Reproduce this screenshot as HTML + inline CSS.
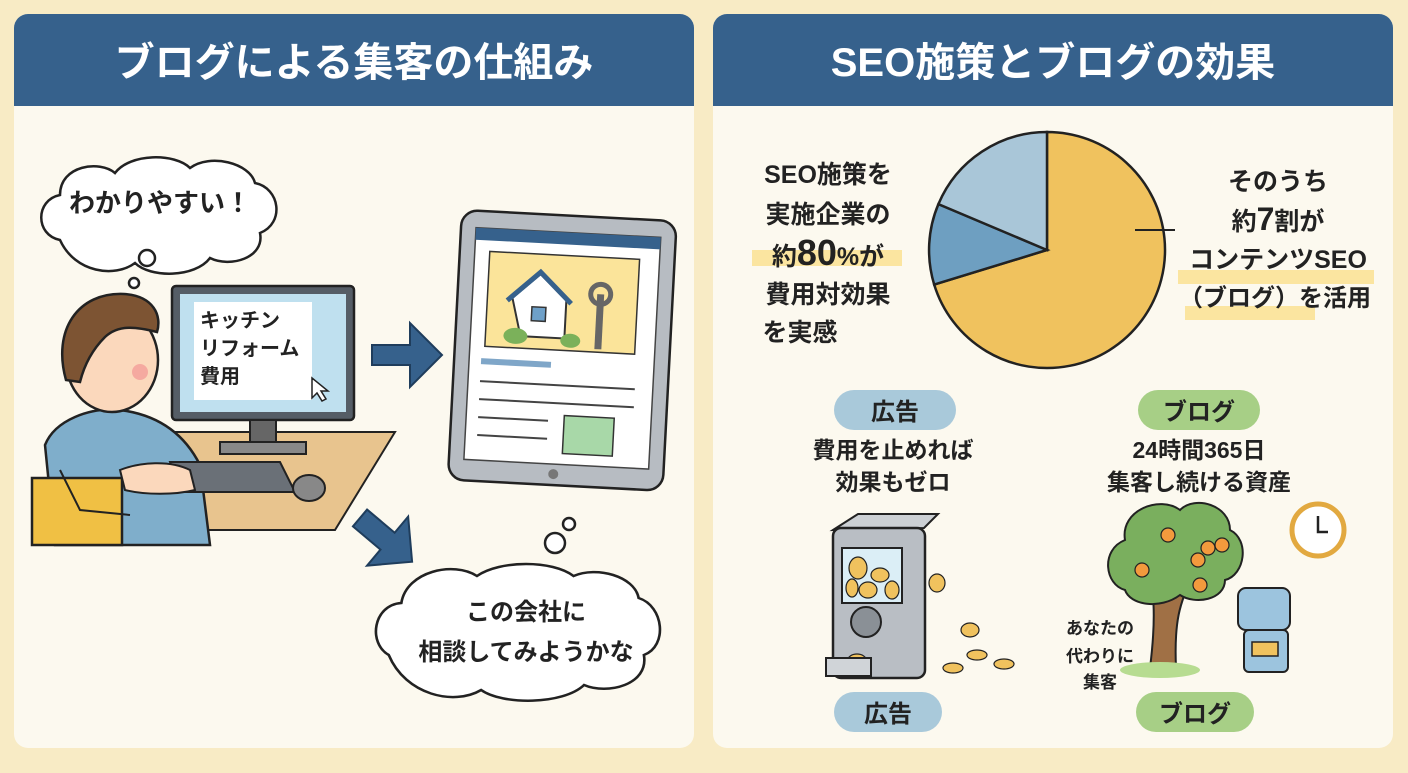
<!DOCTYPE html>
<html><head><meta charset="utf-8"><style>
body{margin:0;width:1408px;height:768px;background:#f8ebc5;overflow:hidden;font-family:"Liberation Sans","Noto Sans CJK JP",sans-serif}
svg text{font-family:"Liberation Sans","Noto Sans CJK JP",sans-serif;font-weight:700;fill:#222}
</style></head><body>
<svg width="1408" height="768" viewBox="0 0 1408 768" xmlns="http://www.w3.org/2000/svg">
<rect x="14" y="14" width="680" height="734" rx="14" fill="#fcf9ef"/>
<path d="M14 106V28a14 14 0 0 1 14-14h652a14 14 0 0 1 14 14v78z" fill="#36618c"/>
<rect x="713" y="14" width="680" height="734" rx="14" fill="#fcf9ef"/>
<path d="M713 106V28a14 14 0 0 1 14-14h652a14 14 0 0 1 14 14v78z" fill="#36618c"/>
<text x="354" y="76" font-size="40" text-anchor="middle" style="fill:#fff">ブログによる集客の仕組み</text>
<text x="1053" y="76" font-size="40" text-anchor="middle" style="fill:#fff">SEO施策とブログの効果</text>

<g stroke="#222" stroke-width="2.5" fill="#fff">
<path d="M60 240c-25-5-25-40 0-45c0-30 40-35 55-22c15-20 60-20 75-5c20-15 60-5 65 15c25 5 30 40 5 50c5 25-30 35-50 25c-15 20-60 20-75 5c-20 15-60 10-75-23z"/>
<circle cx="147" cy="258" r="8"/><circle cx="134" cy="283" r="5"/>
</g>
<text x="160" y="212" font-size="26" text-anchor="middle">わかりやすい！</text>

<path d="M150 432h245l-60 98H150z" fill="#e8c48e" stroke="#222" stroke-width="2"/>
<path d="M45 445c10-25 45-38 75-35c40 5 65 25 80 55l10 80H55z" fill="#7faecb" stroke="#222" stroke-width="2.5"/>
<path d="M32 478h90v67H32z" fill="#f0c044" stroke="#222" stroke-width="2.5"/>
<ellipse cx="112" cy="360" rx="46" ry="52" fill="#fbd8bc" stroke="#222" stroke-width="2.5"/>
<path d="M66 380c-14-50 12-88 58-86c30 2 38 22 33 38c-20-5-38-8-52 5c-10 10-20 25-25 45z" fill="#7d5433" stroke="#222" stroke-width="2.5"/>
<circle cx="140" cy="372" r="8" fill="#f5a9a0"/>
<rect x="172" y="286" width="182" height="134" rx="4" fill="#555d66" stroke="#222" stroke-width="2.5"/>
<rect x="180" y="294" width="166" height="118" fill="#bfe0ef"/>
<rect x="194" y="302" width="118" height="98" fill="#fff"/>
<text x="200" y="327" font-size="20">キッチン</text>
<text x="200" y="355" font-size="20">リフォーム</text>
<text x="200" y="383" font-size="20">費用</text>
<path d="M312 378l0 20 5-5 5 8 4-2-5-8 7 0z" fill="#fff" stroke="#222" stroke-width="1.5"/>
<rect x="250" y="420" width="26" height="24" fill="#666" stroke="#222" stroke-width="2"/>
<rect x="220" y="442" width="86" height="12" fill="#888" stroke="#222" stroke-width="2"/>
<path d="M170 462l110 0 15 30-115 0z" fill="#6a7077" stroke="#222" stroke-width="2"/>
<ellipse cx="309" cy="488" rx="16" ry="13" fill="#888" stroke="#222" stroke-width="2"/>
<path d="M120 470c20-8 50-10 70 0l5 20c-20 5-50 5-70 0z" fill="#fbd8bc" stroke="#222" stroke-width="2"/>
<path d="M60 470l20 40 50 5" fill="none" stroke="#222" stroke-width="2"/>

<path d="M372 345h38v-22l32 32-32 32v-22h-38z" fill="#36618c" stroke="#1f3d5c" stroke-width="2"/>
<path transform="translate(360 518) rotate(40)" d="M0 -11h36v-21l32 32-32 32v-21h-36z" fill="#36618c" stroke="#1f3d5c" stroke-width="2"/>

<g transform="rotate(3 555 345)">
<rect x="455" y="215" width="215" height="270" rx="16" fill="#b7bcc2" stroke="#222" stroke-width="2.5"/>
<rect x="470" y="232" width="185" height="232" fill="#fff" stroke="#444" stroke-width="1.5"/>
<rect x="470" y="232" width="185" height="12" fill="#36618c"/>
<rect x="485" y="255" width="150" height="95" fill="#fbe49a" stroke="#333" stroke-width="1.5"/>
<path d="M510 300l27-25 27 25v38h-44z" fill="#fff" stroke="#333" stroke-width="2"/>
<path d="M505 303l32-30 32 30" fill="none" stroke="#36618c" stroke-width="5"/>
<rect x="530" y="308" width="14" height="14" fill="#6ea0c8" stroke="#333" stroke-width="1.5"/>
<ellipse cx="515" cy="338" rx="12" ry="8" fill="#7bb15a"/><ellipse cx="570" cy="340" rx="10" ry="7" fill="#7bb15a"/>
<path d="M598 292l0 55" stroke="#666" stroke-width="7"/>
<circle cx="598" cy="292" r="10" fill="none" stroke="#666" stroke-width="5"/>
<rect x="482" y="362" width="70" height="6" fill="#7fa6c8"/>
<path d="M482 385h155M482 403h155M482 421h70M482 439h70" stroke="#444" stroke-width="2"/>
<rect x="568" y="415" width="50" height="38" fill="#a8d8a8" stroke="#333" stroke-width="1.5"/>
<circle cx="560" cy="474" r="5" fill="#777"/>
</g>

<g stroke="#222" stroke-width="2.5" fill="#fff">
<path transform="translate(-26 0) scale(1.05 1)" d="M395 655c-20-12-15-50 12-52c5-32 50-42 72-27c22-16 72-16 92 0c22-10 58 0 62 22c24 8 28 48 5 57c5 30-35 40-57 30c-20 20-78 20-98 5c-26 16-72 5-88-35z"/>
<circle cx="555" cy="543" r="10"/><circle cx="569" cy="524" r="6"/>
</g>
<text x="526" y="620" font-size="24" text-anchor="middle">この会社に</text>
<text x="526" y="660" font-size="24" text-anchor="middle">相談してみようかな</text>

<path d="M1047 250L1047 132A118 118 0 1 1 934.2 284.6Z" fill="#f0c25e" stroke="#222" stroke-width="2.5"/>
<path d="M1047 250L934.2 284.6A118 118 0 0 1 938.4 204.1Z" fill="#6e9fc1" stroke="#222" stroke-width="2.5"/>
<path d="M1047 250L938.4 204.1A118 118 0 0 1 1047 132Z" fill="#a9c6d8" stroke="#222" stroke-width="2.5"/>
<path d="M1135 230h40" stroke="#222" stroke-width="2"/>

<g font-size="25" text-anchor="middle">
<rect x="752" y="250" width="150" height="16" fill="#fbe5a0"/>
<text x="828" y="183">SEO施策を</text>
<text x="828" y="223">実施企業の</text>
<text x="828" y="265"><tspan>約</tspan><tspan font-size="36">80</tspan><tspan>%が</tspan></text>
<text x="828" y="303">費用対効果</text>
<text x="800" y="341">を実感</text>
<rect x="1178" y="270" width="196" height="14" fill="#fbe5a0"/>
<rect x="1185" y="306" width="130" height="14" fill="#fbe5a0"/>
<text x="1278" y="190">そのうち</text>
<text x="1278" y="230"><tspan>約</tspan><tspan font-size="32">7</tspan><tspan>割が</tspan></text>
<text x="1278" y="268">コンテンツSEO</text>
<text x="1275" y="306" font-size="24">（ブログ）を活用</text>
</g>

<rect x="834" y="390" width="122" height="40" rx="20" fill="#a9c9da"/>
<text x="895" y="420" font-size="24" text-anchor="middle">広告</text>
<rect x="1138" y="390" width="122" height="40" rx="20" fill="#a7cf86"/>
<text x="1199" y="420" font-size="24" text-anchor="middle">ブログ</text>
<rect x="834" y="692" width="108" height="40" rx="20" fill="#a9c9da"/>
<text x="888" y="722" font-size="24" text-anchor="middle">広告</text>
<rect x="1136" y="692" width="118" height="40" rx="20" fill="#a7cf86"/>
<text x="1195" y="722" font-size="24" text-anchor="middle">ブログ</text>
<g font-size="23" text-anchor="middle">
<text x="893" y="458">費用を止めれば</text>
<text x="893" y="490">効果もゼロ</text>
<text x="1199" y="458">24時間365日</text>
<text x="1199" y="490">集客し続ける資産</text>
</g>

<path d="M833 530l25-16h80l-14 14z" fill="#ccd0d4" stroke="#222" stroke-width="2"/>
<rect x="833" y="528" width="92" height="150" rx="8" fill="#b9bec4" stroke="#222" stroke-width="2.5"/>
<rect x="842" y="548" width="60" height="55" fill="#dbeef6" stroke="#222" stroke-width="2"/>
<g fill="#f0c25e" stroke="#222" stroke-width="1.2">
<ellipse cx="858" cy="568" rx="9" ry="11"/><ellipse cx="880" cy="575" rx="9" ry="7"/><ellipse cx="868" cy="590" rx="9" ry="8"/><ellipse cx="892" cy="590" rx="7" ry="9"/><ellipse cx="852" cy="588" rx="6" ry="9"/>
<ellipse cx="937" cy="583" rx="8" ry="9"/><ellipse cx="970" cy="630" rx="9" ry="7"/><ellipse cx="977" cy="655" rx="10" ry="5"/><ellipse cx="1004" cy="664" rx="10" ry="5"/><ellipse cx="953" cy="668" rx="10" ry="5"/><ellipse cx="857" cy="660" rx="9" ry="6"/>
</g>
<circle cx="866" cy="622" r="15" fill="#8a9096" stroke="#222" stroke-width="2"/>
<rect x="826" y="658" width="45" height="18" fill="#d0d4d8" stroke="#222" stroke-width="2"/>
<path d="M1150 668c5-40 5-70 0-90l12 0c5 20 10 20 22-10l10 5c-15 30-20 50-18 95z" fill="#a07045" stroke="#222" stroke-width="2"/>
<ellipse cx="1160" cy="670" rx="40" ry="8" fill="#b7dc91"/>
<path d="M1125 590c-20-5-25-40 0-50c-5-30 35-45 55-30c15-15 50-5 50 20c20 10 15 45-5 50c0 20-30 25-45 15c-20 15-50 10-55-5z" fill="#7aaf5e" stroke="#222" stroke-width="2"/>
<g fill="#f39a3d" stroke="#222" stroke-width="1.2">
<circle cx="1168" cy="535" r="7"/><circle cx="1208" cy="548" r="7"/><circle cx="1198" cy="560" r="7"/><circle cx="1142" cy="570" r="7"/><circle cx="1222" cy="545" r="7"/><circle cx="1200" cy="585" r="7"/>
</g>
<circle cx="1318" cy="530" r="26" fill="#fff" stroke="#e2a940" stroke-width="5"/>
<path d="M1318 516v16h10" stroke="#222" stroke-width="2.5" fill="none"/>
<rect x="1238" y="588" width="52" height="42" rx="8" fill="#9cc4de" stroke="#222" stroke-width="2"/>
<rect x="1244" y="630" width="44" height="42" rx="5" fill="#9cc4de" stroke="#222" stroke-width="2"/>
<rect x="1252" y="642" width="26" height="14" fill="#f0c25e" stroke="#222" stroke-width="1.5"/>
<text x="1100" y="634" font-size="17" text-anchor="middle">あなたの</text>
<text x="1100" y="662" font-size="17" text-anchor="middle">代わりに</text>
<text x="1100" y="688" font-size="17" text-anchor="middle">集客</text>
</svg>
</body></html>
